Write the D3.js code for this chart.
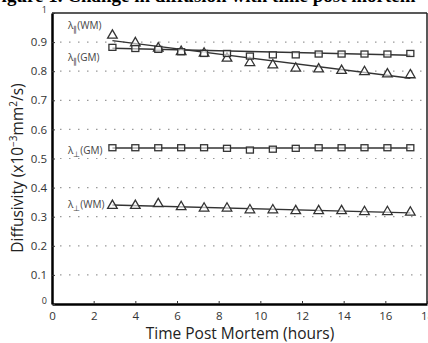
<!DOCTYPE html>
<html>
<head>
<meta charset="utf-8">
<script src="https://cdn.jsdelivr.net/npm/d3@7"></script>
<style>
  body { margin: 0; background: #fff; }
  svg { display: block; }
</style>
</head>
<body>
<script>
// hours post mortem
const times = [2.9, 4.0, 5.1, 6.2, 7.3, 8.4, 9.5, 10.6, 11.7, 12.8, 13.9, 15.0, 16.1, 17.2];
// diffusivities (x10^-3 mm^2/s)
const parWM  = [0.923, 0.897, 0.879, 0.867, 0.861, 0.844, 0.829, 0.821, 0.810, 0.807, 0.802, 0.798, 0.790, 0.787];
const parGM  = [0.882, 0.878, 0.875, 0.867, 0.861, 0.861, 0.852, 0.856, 0.856, 0.859, 0.859, 0.859, 0.859, 0.861];
const perpGM = [0.537, 0.537, 0.537, 0.537, 0.537, 0.535, 0.529, 0.532, 0.535, 0.537, 0.537, 0.537, 0.537, 0.537];
const perpWM = [0.338, 0.338, 0.344, 0.334, 0.329, 0.329, 0.323, 0.323, 0.320, 0.320, 0.320, 0.317, 0.317, 0.315];
// fitted lines, value at first and last time
const fitParWM  = [0.905, 0.776];
const fitParGM  = [0.879, 0.855];
const fitPerpGM = [0.536, 0.536];
const fitPerpWM = [0.340, 0.313];
const xTicks = [0, 2, 4, 6, 8, 10, 12, 14, 16, 18];
const yTicks = [0, 0.1, 0.2, 0.3, 0.4, 0.5, 0.6, 0.7, 0.8, 0.9, 1];

const series = [
  {name: "WM", sub: "\u2225", vals: parWM,  fit: fitParWM,  shape: "tri", lx: 68, ly: 0.955},
  {name: "GM", sub: "\u2225", vals: parGM,  fit: fitParGM,  shape: "sq",  lx: 68, ly: 0.845},
  {name: "GM", sub: "\u22A5", vals: perpGM, fit: fitPerpGM, shape: "sq",  lx: 68, ly: 0.525},
  {name: "WM", sub: "\u22A5", vals: perpWM, fit: fitPerpWM, shape: "tri", lx: 68, ly: 0.34}
];

const W = 428, H = 343;
const svg = d3.select("body").append("svg").attr("width", W).attr("height", H);

// cropped figure caption at the very top
svg.append("text")
  .attr("x", -10).attr("y", 2)
  .attr("font-family", "Liberation Serif").attr("font-weight", "bold").attr("font-size", 19)
  .text("Figure 1. Change in diffusion with time post mortem");

const x = d3.scaleLinear().domain([0, 18]).range([52, 427]);
const y = d3.scaleLinear().domain([0, 1]).range([304, 13]);

const font = "'Open Sans', sans-serif";

// dotted grid
svg.append("g").selectAll("line")
  .data(yTicks.filter(d => d > 0 && d < 1))
  .enter().append("line")
  .attr("x1", x(0) + 8).attr("x2", x(18) - 2)
  .attr("y1", d => y(d)).attr("y2", d => y(d))
  .attr("stroke", "#999").attr("stroke-width", 1.2)
  .attr("stroke-dasharray", "1.5,7.5");

// frame
svg.append("line").attr("x1", x(0)).attr("x2", x(18)).attr("y1", y(1)).attr("y2", y(1))
  .attr("stroke", "#222").attr("stroke-width", 1.5);
svg.append("line").attr("x1", x(18)).attr("x2", x(18)).attr("y1", y(1)).attr("y2", y(0))
  .attr("stroke", "#222").attr("stroke-width", 1.5);

// axes
const xAxis = svg.append("g")
  .attr("transform", `translate(0,${y(0)})`)
  .call(d3.axisBottom(x).tickValues(xTicks).tickSizeInner(-3).tickSizeOuter(0).tickPadding(8));
const yAxis = svg.append("g")
  .attr("transform", `translate(${x(0)},0)`)
  .call(d3.axisLeft(y).tickValues(yTicks).tickSizeInner(-3).tickSizeOuter(0).tickPadding(5)
    .tickFormat(d => d === 0 || d === 1 ? d3.format("d")(d) : d3.format(".1f")(d)));
[xAxis, yAxis].forEach(a => {
  a.select(".domain").attr("stroke", "#000").attr("stroke-width", 2.5);
  a.selectAll(".tick line").attr("stroke", "#333");
  a.selectAll("text").attr("font-family", font).attr("font-size", 11.5).attr("fill", "#333");
});
yAxis.selectAll(".tick").filter(d => d === 0 || d === 1).select("text")
  .attr("font-size", 9).attr("dy", "-0.1em");

// fit lines
svg.append("g").selectAll("line")
  .data(series).enter().append("line")
  .attr("x1", x(times[0])).attr("x2", x(times[times.length - 1]))
  .attr("y1", d => y(d.fit[0])).attr("y2", d => y(d.fit[1]))
  .attr("stroke", "#333").attr("stroke-width", 1.4);

// markers
const tri = d3.symbol().type(d3.symbolTriangle).size(40);
series.forEach(s => {
  const g = svg.append("g");
  const pts = g.selectAll("path").data(s.vals).enter();
  if (s.shape === "sq") {
    pts.append("rect")
      .attr("x", (d, i) => x(times[i]) - 3.5).attr("y", d => y(d) - 3)
      .attr("width", 7).attr("height", 6)
      .attr("fill", "#fff").attr("fill-opacity", 0.6).attr("stroke", "#333").attr("stroke-width", 1.3);
  } else {
    pts.append("path")
      .attr("d", tri)
      .attr("transform", (d, i) => `translate(${x(times[i])},${y(d)})`)
      .attr("fill", "#fff").attr("fill-opacity", 0.6).attr("stroke", "#333").attr("stroke-width", 1.3);
  }
  // series label
  const t = svg.append("text")
    .attr("x", s.lx).attr("y", y(s.ly) + 3)
    .attr("font-family", font).attr("font-size", 10).attr("fill", "#444");
  t.append("tspan").text("\u03BB");
  t.append("tspan").attr("font-size", 7.5).attr("dy", 3).text(s.sub);
  t.append("tspan").attr("dy", -3).text("(" + s.name + ")");
});

// axis titles
svg.append("text")
  .attr("x", 240).attr("y", 339).attr("text-anchor", "middle")
  .attr("font-family", font).attr("font-size", 15.5).attr("fill", "#222")
  .text("Time Post Mortem (hours)");

const yt = svg.append("text")
  .attr("transform", "translate(23,168) rotate(-90)").attr("text-anchor", "middle")
  .attr("font-family", font).attr("font-size", 15.5).attr("fill", "#222");
yt.append("tspan").text("Diffusivity (x10");
yt.append("tspan").attr("font-size", 10).attr("dy", -6).text("\u22123");
yt.append("tspan").attr("dy", 6).text("mm");
yt.append("tspan").attr("font-size", 10).attr("dy", -6).text("2");
yt.append("tspan").attr("dy", 6).text("/s)");
</script>
</body>
</html>
